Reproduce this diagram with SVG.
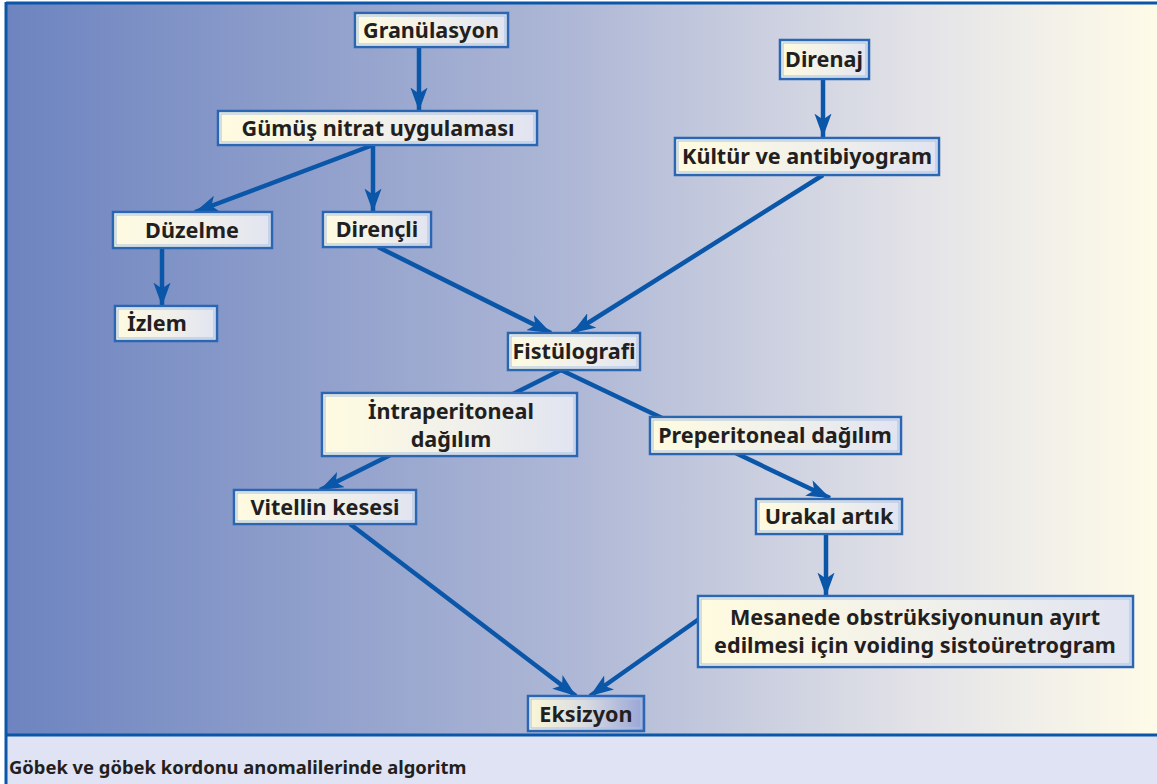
<svg xmlns="http://www.w3.org/2000/svg" width="1157" height="784" viewBox="0 0 1157 784">
<defs>
<linearGradient id="bg" x1="0" y1="0" x2="1" y2="0">
<stop offset="0" stop-color="#6d84c0"/>
<stop offset="0.5" stop-color="#afb8d6"/>
<stop offset="0.8" stop-color="#e4e4e8"/>
<stop offset="1" stop-color="#fffbe8"/>
</linearGradient>
<linearGradient id="box" x1="0" y1="0" x2="1" y2="0">
<stop offset="0" stop-color="#fffbe0"/>
<stop offset="0.5" stop-color="#f2f1ea"/>
<stop offset="1" stop-color="#e1e4f1"/>
</linearGradient>
<linearGradient id="box2" x1="0" y1="0" x2="1" y2="0">
<stop offset="0" stop-color="#fcf7d8"/>
<stop offset="0.5" stop-color="#d9dbe2"/>
<stop offset="1" stop-color="#98a5d6"/>
</linearGradient>
<marker id="ah" viewBox="0 0 10 10" refX="10" refY="5" markerWidth="5.2" markerHeight="3.8" orient="auto" markerUnits="strokeWidth" preserveAspectRatio="none">
<path d="M0,0 L10,5 L0,10 L2.5,5 z" fill="#0a56a8"/>
</marker>
<style>
.b{fill:url(#box);stroke:#2a66b2;stroke-width:2.5}
.i{fill:none;stroke:#a8c2e6;stroke-width:1}
.t{font-family:"Noto Sans","Open Sans",sans-serif;font-weight:bold;font-size:21.6px;fill:#231f20;text-anchor:middle}
.c{fill:none;stroke:#0a56a8;stroke-width:4.5}
</style>
</defs>
<rect x="0" y="0" width="1157" height="784" fill="#ffffff"/>
<rect x="6" y="3" width="1151" height="732" fill="url(#bg)"/>
<rect x="6" y="735" width="1151" height="49" fill="#dfe3f3"/>
<line x1="6" y1="3" x2="1157" y2="3" stroke="#0a56a8" stroke-width="3"/>
<line x1="6" y1="2" x2="6" y2="784" stroke="#0a56a8" stroke-width="3"/>
<line x1="6" y1="735" x2="1157" y2="735" stroke="#0a56a8" stroke-width="3"/>
<text x="9" y="774" style="font-family:'Noto Sans','Open Sans',sans-serif;font-weight:bold;font-size:18.4px;fill:#231f20">Göbek ve göbek kordonu anomalilerinde algoritm</text>

<g id="connectors">
<line class="c" x1="419" y1="47" x2="419" y2="111" marker-end="url(#ah)"/>
<line class="c" x1="373" y1="145" x2="195" y2="212" marker-end="url(#ah)"/>
<line class="c" x1="373" y1="145" x2="373" y2="212" marker-end="url(#ah)"/>
<line class="c" x1="162" y1="248" x2="162" y2="306" marker-end="url(#ah)"/>
<line class="c" x1="378" y1="247" x2="551" y2="333" marker-end="url(#ah)"/>
<line class="c" x1="823" y1="79" x2="823" y2="137" marker-end="url(#ah)"/>
<line class="c" x1="823" y1="175" x2="572" y2="333" marker-end="url(#ah)"/>
<line class="c" x1="561" y1="370" x2="320" y2="490" marker-end="url(#ah)"/>
<line class="c" x1="561" y1="370" x2="830" y2="498" marker-end="url(#ah)"/>
<line class="c" x1="826" y1="534" x2="826" y2="596" marker-end="url(#ah)"/>
<line class="c" x1="350" y1="524" x2="576" y2="696" marker-end="url(#ah)"/>
<line class="c" x1="699" y1="619" x2="590" y2="696" marker-end="url(#ah)"/>
</g>

<g id="granulasyon"><rect class="b" x="355" y="13" width="153" height="34"/><rect class="i" x="358" y="16" width="147" height="28"/><text class="t" x="431" y="38">Granülasyon</text></g>
<g id="gumus"><rect class="b" x="218" y="111" width="319" height="34"/><rect class="i" x="221" y="114" width="313" height="28"/><text class="t" x="378" y="136">Gümüş nitrat uygulaması</text></g>
<g id="duzelme"><rect class="b" x="113" y="212" width="159" height="36"/><rect class="i" x="116" y="215" width="153" height="30"/><text class="t" x="192" y="238">Düzelme</text></g>
<g id="direncli"><rect class="b" x="323" y="212" width="108" height="35"/><rect class="i" x="326" y="215" width="102" height="29"/><text class="t" x="377" y="237">Dirençli</text></g>
<g id="izlem"><rect class="b" x="115" y="306" width="102" height="35"/><rect class="i" x="118" y="309" width="96" height="29"/><text class="t" x="157" y="331">İzlem</text></g>
<g id="direnaj"><rect class="b" x="780" y="40" width="89" height="39"/><rect class="i" x="783" y="43" width="83" height="33"/><text class="t" x="824" y="67">Direnaj</text></g>
<g id="kultur"><rect class="b" x="675" y="138" width="264" height="37"/><rect class="i" x="678" y="141" width="258" height="31"/><text class="t" x="807" y="164">Kültür ve antibiyogram</text></g>
<g id="fistulografi"><rect class="b" x="508" y="333" width="132" height="37"/><rect class="i" x="511" y="336" width="126" height="31"/><text class="t" x="574" y="359">Fistülografi</text></g>
<g id="intraperitoneal"><rect class="b" x="322" y="393" width="255" height="63"/><rect class="i" x="325" y="396" width="249" height="57"/><text class="t" x="451" y="419">İntraperitoneal</text><text class="t" x="451" y="447">dağılım</text></g>
<g id="preperitoneal"><rect class="b" x="650" y="417" width="251" height="37"/><rect class="i" x="653" y="420" width="245" height="31"/><text class="t" x="775" y="443">Preperitoneal dağılım</text></g>
<g id="vitellin"><rect class="b" x="234" y="490" width="182" height="34"/><rect class="i" x="237" y="493" width="176" height="28"/><text class="t" x="325" y="515">Vitellin kesesi</text></g>
<g id="urakal"><rect class="b" x="756" y="499" width="146" height="35"/><rect class="i" x="759" y="502" width="140" height="29"/><text class="t" x="829" y="524">Urakal artık</text></g>
<g id="mesanede"><rect class="b" x="698" y="596" width="435" height="71"/><rect class="i" x="701" y="599" width="429" height="65"/><text class="t" x="915" y="625">Mesanede obstrüksiyonunun ayırt</text><text class="t" x="915" y="653">edilmesi için voiding sistoüretrogram</text></g>
<g id="eksizyon"><rect x="528" y="696" width="116" height="35" fill="url(#box2)" stroke="#2a66b2" stroke-width="2.5"/><rect class="i" x="531" y="699" width="110" height="29"/><text class="t" x="586" y="722">Eksizyon</text></g>
</svg>
